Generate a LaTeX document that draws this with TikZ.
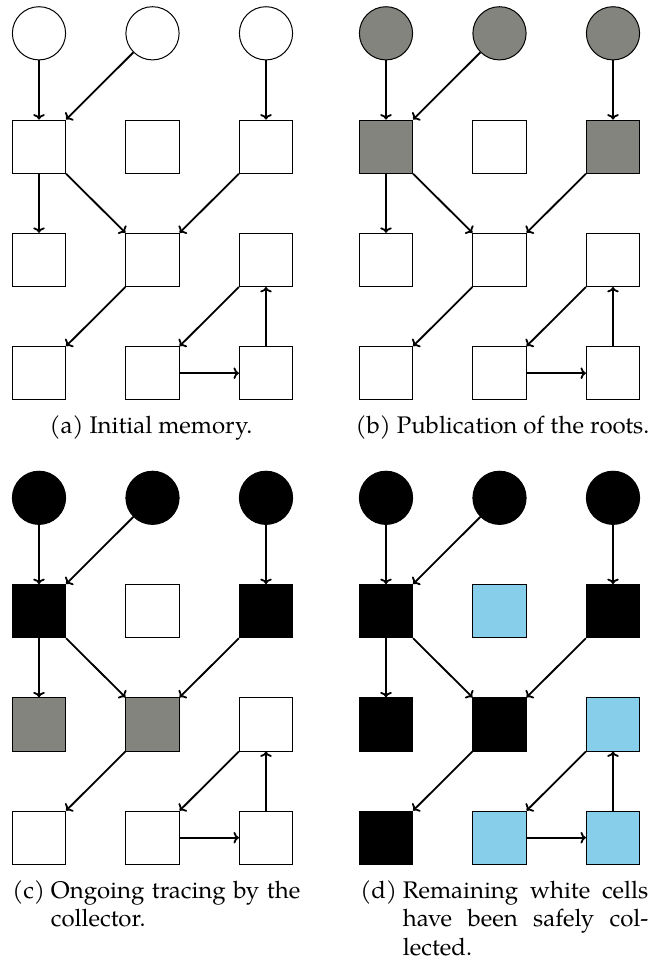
\documentclass[tikz,border=0pt]{standalone}
\usepackage{fontspec}
\setmainfont{TeX Gyre Pagella}
\usetikzlibrary{arrows.meta}
\definecolor{cellgray}{RGB}{132,132,126}
\definecolor{cellblue}{RGB}{135,206,235}
\newsavebox\labbox
\newcommand\hangcap[2]{\sbox\labbox{#1\ }\usebox\labbox\parbox[t]{\dimexpr 144pt-\wd\labbox\relax}{\baselineskip=14.25pt\tolerance=10000\hbadness=10000 #2}}
\tikzset{
  root/.style={circle, draw, line width=0.5pt, minimum size=26.6pt, inner sep=0pt},
  cell/.style={rectangle, draw, line width=0.5pt, minimum size=26.6pt, inner sep=0pt},
  ptr/.style={-{To[length=2.7pt,width=5.8pt]}, line width=0.9pt},
  capt/.style={inner sep=0pt, font=\fontsize{12}{14.25}\selectfont},
}
\newcommand\drawpanel[5]{%
  \begin{scope}[shift={(#1,#2)}]
    \foreach \cc/\xx in {1/39,2/152.5,3/266}
      \node[root, fill=#4] (#3c\cc) at (\xx,33.3) {};
    \foreach \ri/\cc/\ff in {#5}
      \node[cell, fill=\ff] (#3s\ri\cc) at ({39+113.5*(\cc-1)},{33.3+113.3*\ri}) {};
  \end{scope}
  \draw[ptr] (#3c1) -- (#3s11);
  \draw[ptr] (#3c2) -- (#3s11.north east);
  \draw[ptr] (#3c3) -- (#3s13);
  \draw[ptr] (#3s11) -- (#3s21);
  \draw[ptr] (#3s11.south east) -- (#3s22.north west);
  \draw[ptr] (#3s13.south west) -- (#3s22.north east);
  \draw[ptr] (#3s22.south west) -- (#3s31.north east);
  \draw[ptr] (#3s23.south west) -- (#3s32.north east);
  \draw[ptr] (#3s32) -- (#3s33);
  \draw[ptr] (#3s33) -- (#3s23);
}
\begin{document}
\begin{tikzpicture}[x=0.5pt, y=-0.5pt]
  \useasboundingbox (0,0) rectangle (649,965);
  % (a)
  \drawpanel{0}{0}{a}{white}{1/1/white,1/2/white,1/3/white,2/1/white,2/2/white,2/3/white,3/1/white,3/2/white,3/3/white}
  % (b)
  \drawpanel{347}{0}{b}{cellgray}{1/1/cellgray,1/2/white,1/3/cellgray,2/1/white,2/2/white,2/3/white,3/1/white,3/2/white,3/3/white}
  % (c)
  \drawpanel{0}{464.5}{c}{black}{1/1/black,1/2/white,1/3/black,2/1/cellgray,2/2/cellgray,2/3/white,3/1/white,3/2/white,3/3/white}
  % (d)
  \drawpanel{347}{464.5}{d}{black}{1/1/black,1/2/cellblue,1/3/black,2/1/black,2/2/black,2/3/cellblue,3/1/black,3/2/cellblue,3/3/cellblue}
  % captions
  \node[capt, anchor=base] (capa) at (151,433) {(a) Initial memory.};
  \node[capt, anchor=base] (capb) at (502.5,433) {(b) Publication of the roots.};
  \node[capt, anchor=base west] (capc) at (12,898) {\hangcap{(c)}{Ongoing tracing by the\linebreak collector.}};
  \node[capt, anchor=base west] (capd) at (360,898) {\hangcap{(d)}{Remaining white cells\linebreak have been safely col-\linebreak lected.}};
\end{tikzpicture}
\end{document}
